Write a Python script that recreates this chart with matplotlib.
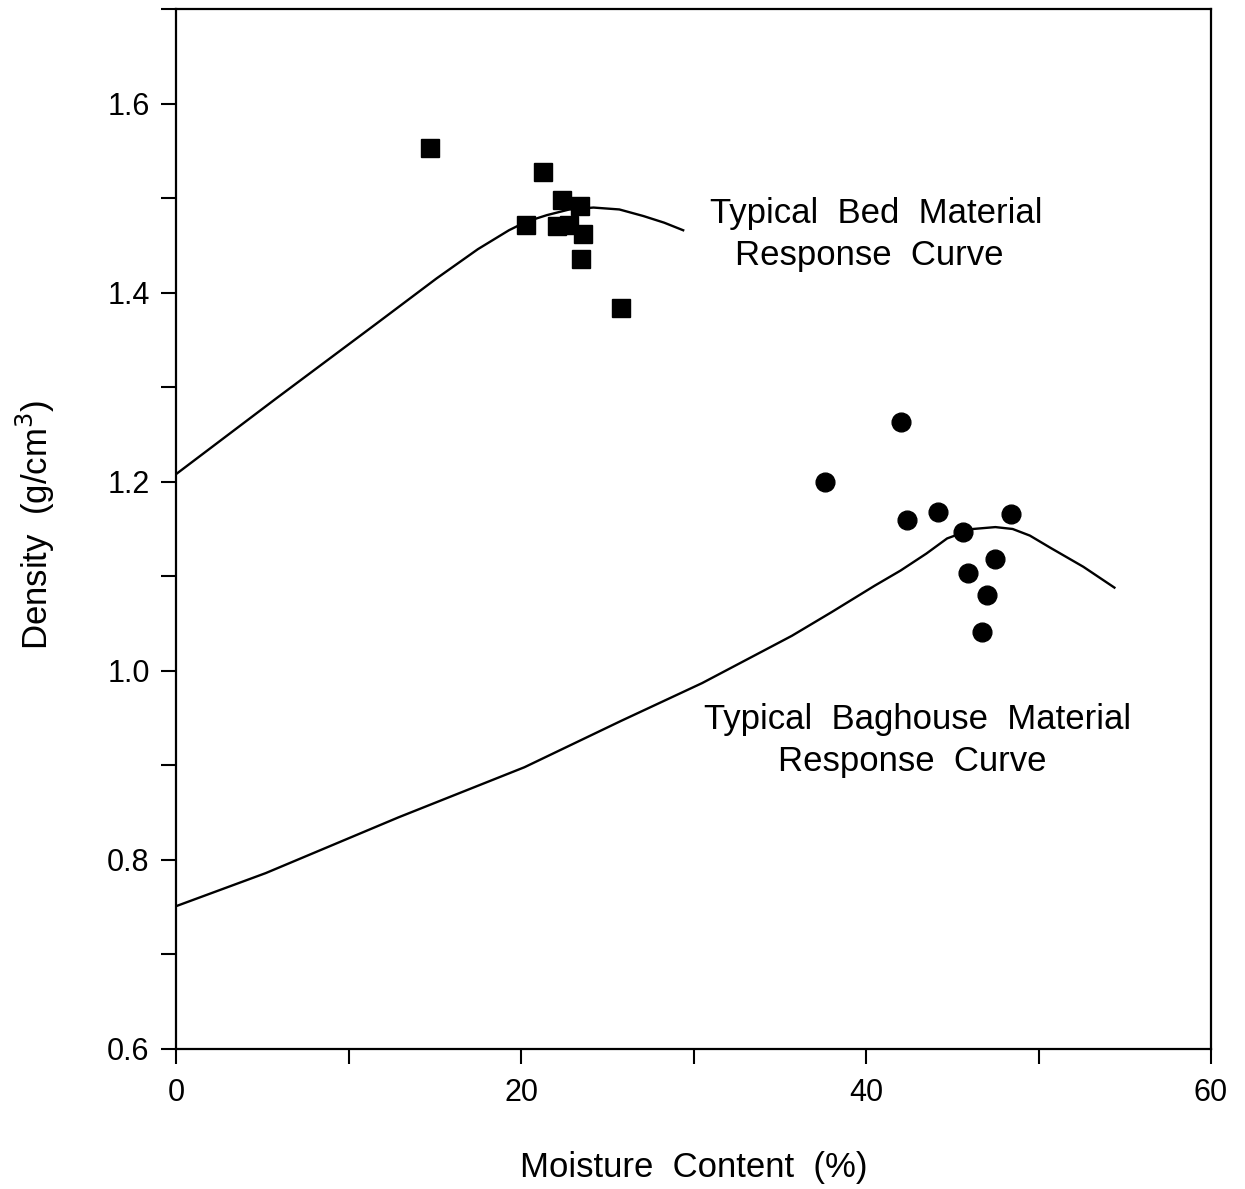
import matplotlib.pyplot as plt
from matplotlib.ticker import MultipleLocator

plt.rcParams['font.family'] = ['Liberation Sans', 'DejaVu Sans']

# measured points
bed_moist = [14.7, 21.3, 20.3, 22.4, 23.4, 22.1, 22.8, 23.6, 23.5, 25.8]
bed_dens = [1.553, 1.528, 1.472, 1.498, 1.492, 1.470, 1.472, 1.462, 1.436, 1.384]

bag_moist = [42.0, 37.6, 42.4, 44.2, 45.6, 48.4, 47.5, 45.9, 47.0, 46.7]
bag_dens = [1.263, 1.200, 1.159, 1.168, 1.147, 1.166, 1.118, 1.103, 1.080, 1.041]

# typical response curves
bed_curve_x = [0, 5.8, 11.6, 15.1, 17.5, 19.3, 20.3, 21.5, 22.8, 24.2, 25.7, 27.1, 28.3, 29.4]
bed_curve_y = [1.208, 1.288, 1.367, 1.415, 1.446, 1.466, 1.475, 1.482, 1.488, 1.490,
               1.488, 1.481, 1.474, 1.466]

bag_curve_x = [0, 5.2, 12.9, 20.2, 25.8, 30.5, 35.7, 38.0, 40.5, 42.0, 43.5, 44.7,
               46.2, 47.5, 48.5, 49.5, 50.7, 52.6, 54.4]
bag_curve_y = [0.751, 0.786, 0.845, 0.898, 0.947, 0.987, 1.037, 1.062, 1.090, 1.106,
               1.124, 1.140, 1.150, 1.152, 1.150, 1.143, 1.130, 1.110, 1.088]

fig = plt.figure(figsize=(12.45, 11.89), dpi=100)
ax = fig.add_axes([0.1414, 0.1178, 0.8313, 0.8746])

ax.plot(bed_curve_x, bed_curve_y, color='black', lw=1.7)
ax.plot(bag_curve_x, bag_curve_y, color='black', lw=1.7)
ax.plot(bed_moist, bed_dens, 's', color='black', ms=13)
ax.plot(bag_moist, bag_dens, 'o', color='black', ms=13.5)

lab = dict(fontsize=25, ha='center', va='baseline')
ax.text(40.6, 1.474, 'Typical  Bed  Material', **lab)
ax.text(40.2, 1.429, 'Response  Curve', **lab)
ax.text(43.0, 0.938, 'Typical  Baghouse  Material', **lab)
ax.text(42.7, 0.894, 'Response  Curve', **lab)

ax.set_xlim(0, 60)
ax.set_ylim(0.6, 1.7)
ax.xaxis.set_major_locator(MultipleLocator(20))
ax.xaxis.set_minor_locator(MultipleLocator(10))
ax.yaxis.set_minor_locator(MultipleLocator(0.1))
ax.set_yticks([0.6, 0.8, 1.0, 1.2, 1.4, 1.6])
ax.set_yticklabels(['0.6', '0.8', '1.0', '1.2', '1.4', '1.6'])
ax.tick_params(which='both', direction='out', length=11, width=1.5, labelsize=22)
ax.tick_params(axis='x', pad=10)
ax.tick_params(axis='y', pad=8)
for s in ax.spines.values():
    s.set_linewidth(1.6)

ax.set_xlabel('Moisture  Content  (%)', fontsize=25)
ax.xaxis.set_label_coords(0.5, -0.1144)
ax.xaxis.label.set_va('center')
ax.set_ylabel('Density  (g/cm$^3$)', fontsize=25)
ax.yaxis.set_label_coords(-0.1362, 0.504)
ax.yaxis.label.set_va('center')

fig.savefig('out.png', dpi=100)
